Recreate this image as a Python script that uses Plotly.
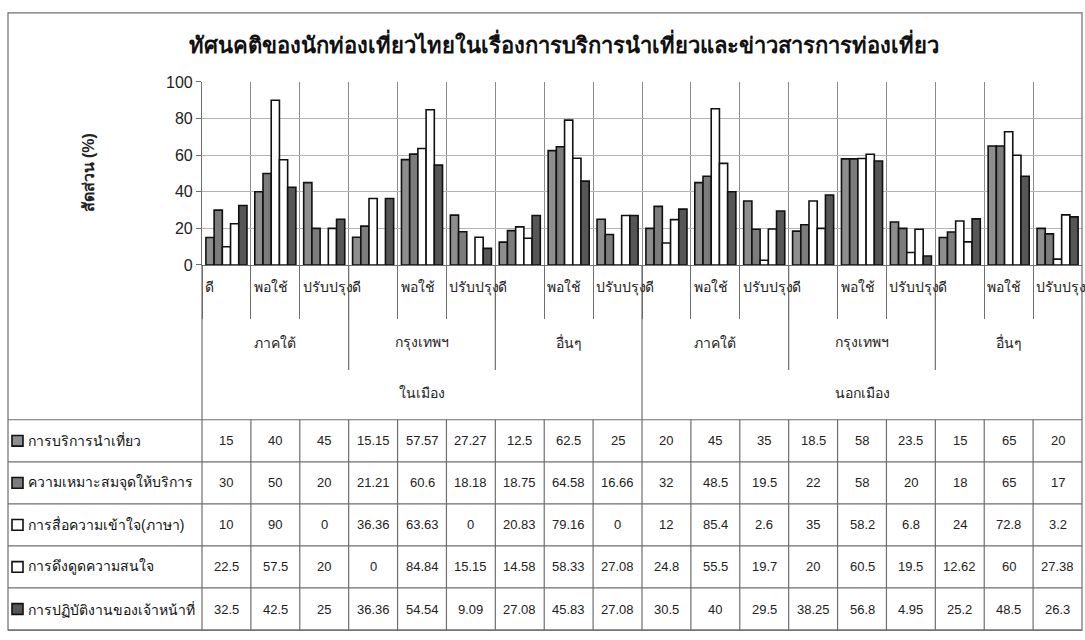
import plotly.graph_objects as go

# ---------------- data ----------------
level1 = ["ดี", "พอใช้", "ปรับปรุง"]
level2 = ["ภาคใต้", "กรุงเทพฯ", "อื่นๆ"]
level3 = ["ในเมือง", "นอกเมือง"]

series_names = [
    "การบริการนำเที่ยว",
    "ความเหมาะสมจุดให้บริการ",
    "การสื่อความเข้าใจ(ภาษา)",
    "การดึงดูดความสนใจ",
    "การปฏิบัติงานของเจ้าหน้าที่",
]
tour_service = [15, 40, 45, 15.15, 57.57, 27.27, 12.5, 62.5, 25, 20, 45, 35, 18.5, 58, 23.5, 15, 65, 20]
service_point = [30, 50, 20, 21.21, 60.6, 18.18, 18.75, 64.58, 16.66, 32, 48.5, 19.5, 22, 58, 20, 18, 65, 17]
communication = [10, 90, 0, 36.36, 63.63, 0, 20.83, 79.16, 0, 12, 85.4, 2.6, 35, 58.2, 6.8, 24, 72.8, 3.2]
attraction = [22.5, 57.5, 20, 0, 84.84, 15.15, 14.58, 58.33, 27.08, 24.8, 55.5, 19.7, 20, 60.5, 19.5, 12.62, 60, 27.38]
staff = [32.5, 42.5, 25, 36.36, 54.54, 9.09, 27.08, 45.83, 27.08, 30.5, 40, 29.5, 38.25, 56.8, 4.95, 25.2, 48.5, 26.3]
series_values = [tour_service, service_point, communication, attraction, staff]

title_text = "ทัศนคติของนักท่องเที่ยวไทยในเรื่องการบริการนำเที่ยวและข่าวสารการท่องเที่ยว"
y_title = "สัดส่วน (%)"
y_ticks = [0, 20, 40, 60, 80, 100]

# ---------------- styling / layout constants ----------------
colors = ["#8e8e8e", "#7c7c7c", "#ffffff", "#ffffff", "#565656"]
W, H = 1085, 640
PL, PR = 202, 1082          # plot left / right (px)
PT, PB = 76, 264            # plot top / bottom (px)
BOX_L, BOX_T, BOX_B = 8, 5, 639
TABLE_T = 423
ROW_H = (BOX_B - TABLE_T) / 5
FONT = "Liberation Sans, Arial, sans-serif"
LINE = "#6e6e6e"


def px(x):
    return x / W


def py(y):
    return 1 - y / H


cats = [f"{a}|{b}|{c}" for a in level3 for b in level2 for c in level1]
n = len(cats)

fig = go.Figure()
for name, vals, col in zip(series_names, series_values, colors):
    fig.add_trace(go.Bar(
        x=cats, y=vals, name=name,
        marker=dict(color=col, line=dict(color="#111111", width=1.6)),
        hovertemplate="%{y}<extra>" + name + "</extra>",
    ))

shapes = []
annotations = []

# outer border
shapes.append(dict(type="rect", xref="paper", yref="paper",
                   x0=px(BOX_L), x1=px(PR), y0=py(BOX_B), y1=py(BOX_T),
                   line=dict(color=LINE, width=1.2)))

# left boundary of plot extends down through the table
shapes.append(dict(type="line", xref="paper", yref="paper",
                   x0=px(PL), x1=px(PL), y0=py(PB), y1=py(BOX_B),
                   line=dict(color=LINE, width=1.2)))

# level-2 group boundaries
for b in range(3, n, 3):
    if b % 9 == 0:
        continue
    shapes.append(dict(type="line", xref="x", yref="paper",
                       x0=b - 0.5, x1=b - 0.5, y0=py(PB), y1=py(372),
                       line=dict(color=LINE, width=1.2)))
# level-3 boundary
for b in range(9, n, 9):
    shapes.append(dict(type="line", xref="x", yref="paper",
                       x0=b - 0.5, x1=b - 0.5, y0=py(PB), y1=py(TABLE_T),
                       line=dict(color=LINE, width=1.2)))

# table horizontal lines
for k in range(6):
    yy = TABLE_T + k * ROW_H
    shapes.append(dict(type="line", xref="paper", yref="paper",
                       x0=px(BOX_L), x1=px(PR), y0=py(yy), y1=py(yy),
                       line=dict(color=LINE, width=1.2)))
# table vertical lines
for b in range(1, n):
    shapes.append(dict(type="line", xref="x", yref="paper",
                       x0=b - 0.5, x1=b - 0.5, y0=py(TABLE_T), y1=py(BOX_B),
                       line=dict(color=LINE, width=1.2)))

# level-1 labels (left aligned in each category)
for i, c in enumerate(cats):
    annotations.append(dict(xref="x", yref="paper", x=i - 0.5, y=py(287),
                            text=c.split("|")[2], showarrow=False,
                            xanchor="left", yanchor="middle", xshift=1,
                            font=dict(family=FONT, size=14, color="#222")))
# level-2 labels
for g in range(n // 3):
    annotations.append(dict(xref="x", yref="paper", x=g * 3 + 1, y=py(344),
                            text=level2[g % 3], showarrow=False,
                            xanchor="center", yanchor="middle",
                            font=dict(family=FONT, size=14, color="#222")))
# level-3 labels
for g in range(n // 9):
    annotations.append(dict(xref="x", yref="paper", x=g * 9 + 4, y=py(396),
                            text=level3[g], showarrow=False,
                            xanchor="center", yanchor="middle",
                            font=dict(family=FONT, size=14, color="#222")))

# table rows
for r, (name, vals, col) in enumerate(zip(series_names, series_values, colors)):
    yc = TABLE_T + (r + 0.5) * ROW_H
    shapes.append(dict(type="rect", xref="paper", yref="paper",
                       x0=px(12), x1=px(23), y0=py(yc + 5.5), y1=py(yc - 5.5),
                       fillcolor=col, line=dict(color="#111", width=1.6)))
    annotations.append(dict(xref="paper", yref="paper", x=px(26), y=py(yc),
                            text=name, showarrow=False, xanchor="left",
                            yanchor="middle",
                            font=dict(family=FONT, size=14, color="#111")))
    for i, v in enumerate(vals):
        annotations.append(dict(xref="x", yref="paper", x=i, y=py(yc),
                                text=f"{v:g}", showarrow=False,
                                xanchor="center", yanchor="middle",
                                font=dict(family=FONT, size=13, color="#222")))

# title and y-axis title
annotations.append(dict(xref="paper", yref="paper", x=px(564), y=py(36),
                        text=f"<b>{title_text}</b>", showarrow=False,
                        xanchor="center", yanchor="middle",
                        font=dict(family=FONT, size=22, color="#111")))
annotations.append(dict(xref="paper", yref="paper", x=px(88), y=py((PT + PB) / 2),
                        text=f"<b>{y_title}</b>", showarrow=False, textangle=-90,
                        xanchor="center", yanchor="middle",
                        font=dict(family=FONT, size=16, color="#222")))

fig.update_layout(
    width=W, height=H,
    margin=dict(l=0, r=0, t=0, b=0),
    paper_bgcolor="white", plot_bgcolor="white",
    barmode="group", bargap=0.16, bargroupgap=0,
    showlegend=False,
    xaxis=dict(domain=[px(PL), px(PR)], type="category",
               categoryorder="array", categoryarray=cats,
               range=[-0.5, n - 0.5], tickson="boundaries",
               showgrid=True, gridcolor="#8a8a8a", gridwidth=1,
               ticks="outside", ticklen=53, tickcolor=LINE, tickwidth=1.2,
               showticklabels=False, showline=True, linecolor=LINE, linewidth=1.2,
               zeroline=False, fixedrange=True),
    yaxis=dict(domain=[py(PB), py(PT)], range=[0, 100], tickvals=y_ticks,
               showgrid=True, gridcolor="#b4b4b4", gridwidth=1,
               ticks="outside", ticklen=5, tickcolor=LINE,
               showline=True, linecolor=LINE, linewidth=1.2,
               zeroline=False, fixedrange=True,
               tickfont=dict(family=FONT, size=16, color="#222")),
    shapes=shapes,
    annotations=annotations,
)

fig.write_html("out.html",
               config={"displayModeBar": False},
               post_script="document.body.style.margin='0';document.body.style.overflow='hidden';")
